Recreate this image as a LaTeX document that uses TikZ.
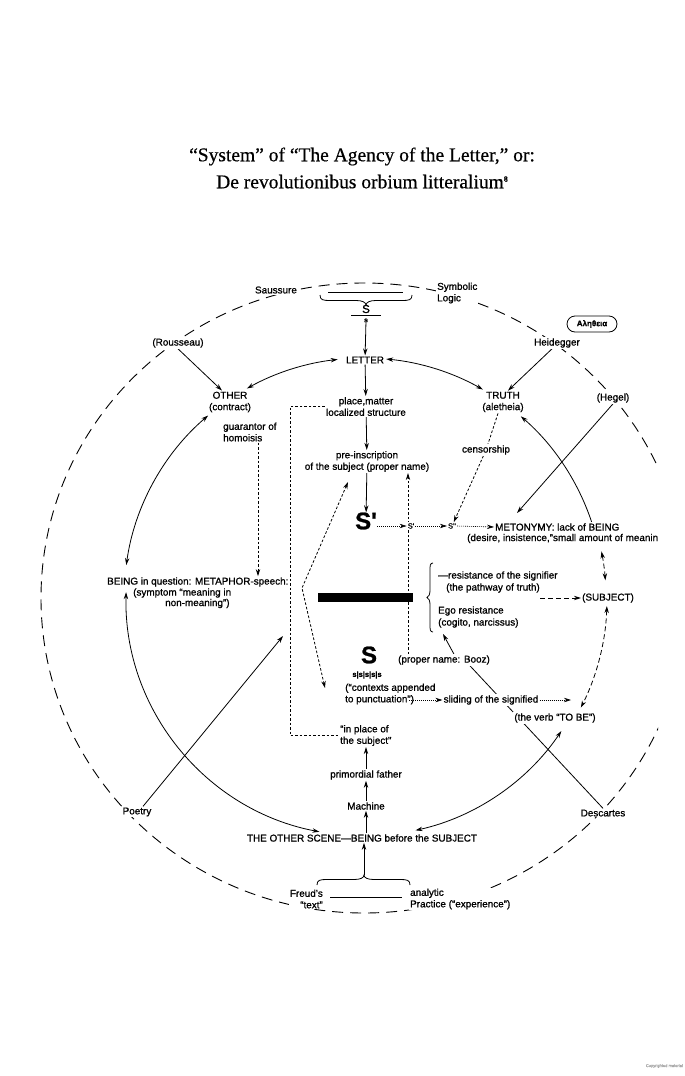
\documentclass[tikz,border=0pt]{standalone}
\usepackage{fontspec}
\setmainfont{Liberation Serif}[FakeBold=0.5]
\setsansfont{Liberation Sans}[FakeBold=1.0]
\usetikzlibrary{arrows.meta,calc,backgrounds}
\begin{document}
\begin{tikzpicture}[x=1pt,y=-1pt,
  lbl/.style={font=\fontsize{9.9}{11.5}\selectfont\sffamily, align=center, inner sep=1pt},
  lblw/.style={lbl, fill=white},
  lw/.style={line width=0.8pt},
  ar/.style={lw, -{Stealth[length=7pt,width=4.4pt]}},
  arr2/.style={lw, {Stealth[length=7pt,width=4.4pt]}-{Stealth[length=7pt,width=4.4pt]}},
  outer/.style={line width=0.9pt, dash pattern=on 11pt off 7pt},
  fine/.style={dash pattern=on 2.6pt off 1.9pt},
  middash/.style={dash pattern=on 5pt off 3pt},
  dotl/.style={line width=0.6pt, dash pattern=on 0.9pt off 1.1pt},
  bigS/.style={font=\fontsize{24}{24}\selectfont\sffamily\bfseries, inner sep=0pt},
  smallS/.style={font=\fontsize{7.5}{8}\selectfont\sffamily, inner sep=1pt},
]
\useasboundingbox (0,0) rectangle (685,1076);
\coordinate (C) at (364,598);

% title
\node[font=\fontsize{19.5}{27}\selectfont, align=center] (title) at (362,168)
  {“System” of “The Agency of the Letter,” or:\\De revolutionibus orbium litteralium\raisebox{6.5pt}{\fontsize{8}{8}\selectfont\bfseries 8}};

% labels on the outer circle
\node[lblw] (sau) at (276,290) {Saussure};
\node[lblw, align=left, anchor=west] (symb) at (436,293) {Symbolic\\Logic};
\node[lblw] (rou) at (178,343) {(Rousseau)};
\node[lblw] (heid) at (557,343) {Heidegger};
\node[lblw] (hegel) at (613,398) {(Hegel)};
\node[draw, lw, rounded corners=8pt, minimum width=50pt, minimum height=16pt, inner sep=1pt,
      font=\fontsize{8}{8}\selectfont\sffamily\bfseries] (alet) at (592,324) {Αληθεια};
\node[lblw] (poetry) at (137,812) {Poetry};
\node[lblw] (desc) at (603,813) {Descartes};
\node[lblw, align=right, anchor=east] (freud) at (324,899) {Freud's\\“text”};
\node[lblw, align=left, anchor=west] (anal) at (409,899) {analytic\\Practice (“experience”)};

% top fraction
\node[font=\fontsize{11.5}{11.5}\selectfont\sffamily, inner sep=0.5pt] (S0) at (366,309) {S};
\node[font=\fontsize{7}{7}\selectfont\sffamily\bfseries, inner sep=0.5pt] (s0) at (366,320.5) {s};

% inner nodes
\node[lbl] (letter) at (365,360) {LETTER};
\node[lbl] (other) at (230,402) {OTHER\\(contract)};
\node[lbl] (truth) at (503,402) {TRUTH\\(aletheia)};
\node[lbl] (place) at (366,406.5) {place,matter\\localized structure};
\node[lbl, align=left, anchor=west] (guar) at (222,432) {guarantor of\\homoisis};
\node[lbl] (pre) at (367,461.5) {pre-inscription\\of the subject (proper name)};
\node[lblw] (censor) at (486,450) {censorship};

\node[bigS] (Sp) at (366,521) {S\textquotesingle};
\node[smallS, fill=white] (Sp2) at (411,526) {S\textquotesingle};
\node[smallS] (Spp) at (452,526) {S\textquotesingle\textquotesingle};
\node[lbl, anchor=west] (meto1) at (494,527) {METONYMY: lack of BEING};
\begin{scope}
  \clip (0,0) rectangle (658,1076);
  \node[lbl, anchor=west] (meto2) at (466,538.5) {(desire, insistence,"small amount of meaning")};
\end{scope}

\node[lbl, anchor=west] (being1) at (106,582) {BEING in question: METAPHOR-speech:};
\node[lbl, anchor=west] (being2) at (132,593) {(symptom “meaning in};
\node[lbl, anchor=west] (being3) at (164,603.5) {non-meaning”)};

\node[fill=black, minimum width=95pt, minimum height=9pt, inner sep=0pt] (bar) at (365.5,597.5) {};

\node[lbl, anchor=west] (res1) at (437,576) {—resistance of the signifier};
\node[lbl, anchor=west] (res2) at (445,588) {(the pathway of truth)};
\node[lbl, anchor=west] (ego1) at (437,611) {Ego resistance};
\node[lbl, anchor=west] (ego2) at (437,623) {(cogito, narcissus)};
\node[lbl] (subj) at (608,598) {(SUBJECT)};

\node[bigS] (bigS) at (369,655) {S};
\node[font=\fontsize{7.5}{8}\selectfont\sffamily\bfseries, inner sep=1pt] (sss) at (367,675) {s|s|s|s|s};
\node[lblw] (booz) at (444,660) {(proper name: Booz)};
\node[lbl, align=left, anchor=west] (ctx) at (344,694) {(“contexts appended\\to punctuation”)};
\node[lblw] (sliding) at (491,700) {sliding of the signified};
\node[lblw] (tobe) at (555,718) {(the verb “TO BE”)};

\node[lbl, align=left, anchor=west] (inplace) at (339,735.5) {“in place of\\the subject”};
\node[lbl] (prim) at (366,775) {primordial father};
\node[lbl] (machine) at (366,806) {Machine};
\node[lbl] (scene) at (362,838) {THE OTHER SCENE—BEING before the SUBJECT};

% helper coordinates
\coordinate (gx) at (258,0);
\coordinate (bx) at (290,0);
\coordinate (vx) at (408,0);
\coordinate (hegelEnd) at (517,513);
\coordinate (vtx) at (302,588);
\coordinate (preL) at (348,482);
\coordinate (ctxT) at (325,688);
\coordinate (resx) at (540,598);
\coordinate (ctxe) at (409,700);
\coordinate (slEnd) at (571,700);
\coordinate (egoTip) at (443,634);
\coordinate (poetEnd) at (283,636);
\coordinate (btip) at (364,875);

\node[font=\fontsize{4}{4}\selectfont\sffamily, text=black!35, anchor=east, inner sep=0pt] (copy) at (683,1066) {Copyrighted material};

\begin{scope}[on background layer]
  \begin{scope}
    \clip (0,0) rectangle (658,1076);
    \draw[outer] (C) ellipse [x radius=323, y radius=315];
  \end{scope}
  % bars and braces
  \draw[lw] (328,292) -- (403,292);
  \draw[lw] (320,295) .. controls (320,300) and (323,300.5) .. (330,300.5) -- (356,300.5)
        .. controls (362,300.5) and (366,302) .. (366,305.5)
        .. controls (366,302) and (370,300.5) .. (376,300.5) -- (402,300.5)
        .. controls (409,300.5) and (412,300) .. (412,295);
  \draw[lw] (351,315) -- (381,315);
  \draw[lw] (330,897) -- (402,897);
  \draw[lw] (317,885) .. controls (317,880) and (320,879.5) .. (327,879.5) -- (354,879.5)
        .. controls (360,879.5) and (364,878) .. (364,875)
        .. controls (364,878) and (368,879.5) .. (374,879.5) -- (400,879.5)
        .. controls (407,879.5) and (410,880) .. (410,885);
  \draw[lw] (433,563) .. controls (430,563) and (430,566) .. (430,570) -- (430,590)
        .. controls (430,594) and (429,597) .. (427,597.5)
        .. controls (429,598) and (430,601) .. (430,605) -- (430,625)
        .. controls (430,629) and (430,632) .. (433,632);

  % central column
  \draw[ar] (s0) -- (letter);
  \draw[ar] (letter) -- (place);
  \draw[ar] (place) -- (pre);
  \draw[ar] (pre) -- (Sp);
  \draw[ar] (btip) -- (scene.south -| btip);
  \draw[ar] (scene.north -| machine) -- (machine);
  \draw[ar] (machine) -- (prim);
  \draw[ar] (prim.north) -- (prim.north |- inplace.south);

  % inner circle arcs
  \draw[arr2] ($(C)+(-96.3:240)$) arc[start angle=-96.3, end angle=-119.2, radius=240];
  \draw[arr2] ($(C)+(-84.7:240)$) arc[start angle=-84.7, end angle=-60.3, radius=240];
  \draw[ar] ($(C)+(-18.5:240)$) arc[start angle=-18.5, end angle=-49.2, radius=240];
  \draw[arr2, middash] ($(C)+(-11.1:242)$) arc[start angle=-11.1, end angle=-4.2, radius=242];
  \draw[arr2, middash] ($(C)+(1.9:243)$) arc[start angle=1.9, end angle=26.8, radius=243];
  \draw[arr2] ($(C)+(34:238)$) arc[start angle=34, end angle=77.5, radius=238];
  \draw[arr2] ($(C)+(100.8:238)$) arc[start angle=100.8, end angle=181.4, radius=238];
  \draw[arr2] ($(C)+(187.9:240)$) arc[start angle=187.9, end angle=229.5, radius=240];

  % straight connectors
  \draw[ar] (rou.south) -- ($(other.north)+(-8,0)$);
  \draw[ar] ($(heid.south)+(-5,0)$) -- ($(truth.north)+(5,0)$);
  \draw[ar] (hegel.south) -- (hegelEnd);
  \draw[ar, fine] ($(truth.south)+(-5,0)$) -- (censor) -- (Spp);
  \draw[ar, fine] (guar.south -| gx) -- (being1.north -| gx);
  \draw[lw, fine] (place.west) -- (place.west -| bx) -- (inplace.west -| bx) -- (inplace.west);
  \draw[arr2, fine] (preL) -- (vtx) -- (ctxT);
  \draw[ar, fine] (booz.north -| vx) -- (pre.south -| vx);
  \draw[ar, dotl] (Sp.east |- Sp2) -- (Sp2.west);
  \draw[ar, dotl] (Sp2.east) -- (Spp.west);
  \draw[ar, dotl] (Spp.east) -- (meto1.west);
  \draw[ar, middash] (resx) -- (subj.west);
  \draw[ar] ($(booz.north)+(10,0)$) -- (egoTip);
  \draw[lw] ($(booz.south)+(26,0)$) -- (desc.north);
  \draw[ar, dotl] (ctxe) -- (sliding.west);
  \draw[ar, dotl] (sliding.east) -- (slEnd);
  \draw[ar] ($(poetry.north)+(6,0)$) -- (poetEnd);
\end{scope}
\end{tikzpicture}
\end{document}
